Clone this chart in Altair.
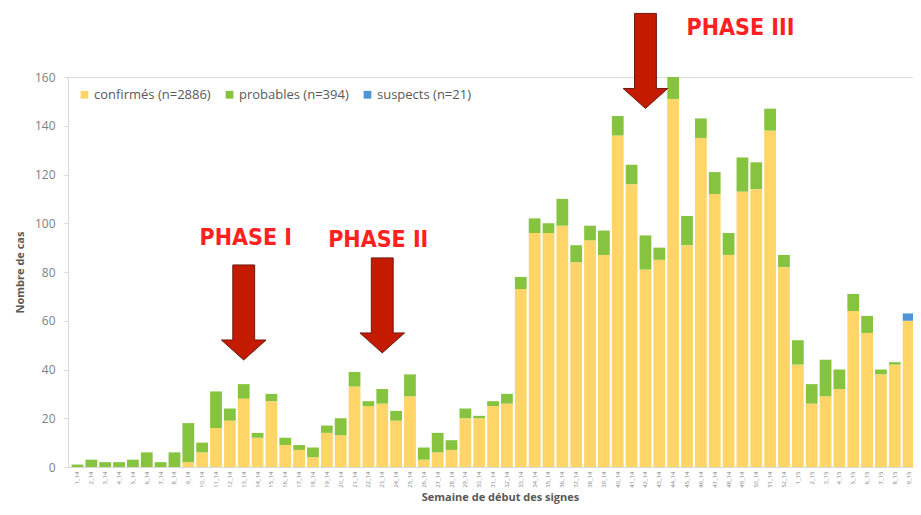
import altair as alt
import pandas as pd

weeks = ["1_14","2_14","3_14","4_14","5_14","6_14","7_14","8_14","9_14","10_14",
         "11_14","12_14","13_14","14_14","15_14","16_14","17_14","18_14","19_14","20_14",
         "21_14","22_14","23_14","24_14","25_14","26_14","27_14","28_14","29_14","30_14",
         "31_14","32_14","33_14","34_14","35_14","36_14","37_14","38_14","39_14","40_14",
         "41_14","42_14","43_14","44_14","45_14","46_14","47_14","48_14","49_14","50_14",
         "51_14","52_14","1_15","2_15","3_15","4_15","5_15","6_15","7_15","8_15",
         "9_15","10_15"]

confirmes = [0,0,0,0,0,0,0,0,2,6,
             16,19,28,12,27,9,7,4,14,13,
             33,25,26,19,29,3,6,7,20,20,
             25,26,73,96,96,99,84,93,87,136,
             116,81,85,151,91,135,112,87,113,114,
             138,82,42,26,29,32,64,55,38,42,
             60,31]
probables = [1,3,2,2,3,6,2,6,16,4,
             15,5,6,2,3,3,2,4,3,7,
             6,2,6,4,9,5,8,4,4,1,
             2,4,5,6,4,11,7,6,10,8,
             8,14,5,9,12,8,9,9,14,11,
             9,5,10,8,15,8,7,7,2,1,
             0,0]
suspects = [0]*60 + [3, 18]

series_names = ["confirmés (n=2886)", "probables (n=394)", "suspects (n=21)"]
series_colors = ["#FFD567", "#86C440", "#4E94D6"]

rows = []
for i, w in enumerate(weeks):
    for k, vals in enumerate([confirmes, probables, suspects]):
        rows.append({"semaine": w, "serie": series_names[k], "ordre": k, "cas": vals[i]})
df = pd.DataFrame(rows)

# annotations
phase_labels = ["PHASE I", "PHASE II", "PHASE III"]
phase_weeks = ["13_14", "23_14", "49_14"]
phase_y = [94, 93, 180]
arrow_weeks = ["13_14", "23_14", "42_14"]
arrow_y = [63.4, 66.3, 166.6]

txt_df = pd.DataFrame({"semaine": phase_weeks, "y": phase_y, "label": phase_labels})
arr_df = pd.DataFrame({"semaine": arrow_weeks, "y": arrow_y})

xscale = alt.Scale(domain=weeks, paddingInner=0.15, paddingOuter=0.26, range=[0, 864])
yscale = alt.Scale(domain=[0, 160], nice=False)

bars = alt.Chart(df).mark_bar().encode(
    x=alt.X("semaine:N", sort=weeks, scale=xscale,
            axis=alt.Axis(title="Semaine de début des signes", labelAngle=-90,
                          labelFontSize=6, labelColor="#7f7f7f", ticks=False,
                          labelExpr="datum.value == '10_15' ? '' : datum.label",
                          domainColor="#d9d9d9", labelFont="Open Sans",
                          titleFontSize=11, titleFontWeight="bold", titleFont="Open Sans",
                          titleColor="#595959", titleY=33, titleBaseline="alphabetic",
                          labelPadding=4)),
    y=alt.Y("cas:Q", stack="zero", scale=yscale,
            axis=alt.Axis(title="Nombre de cas", values=[0,20,40,60,80,100,120,140,160],
                          grid=False, labelFontSize=12, labelColor="#7f7f7f",
                          labelFont="Open Sans",
                          tickSize=4, tickColor="#d9d9d9", domainColor="#d9d9d9",
                          labelPadding=9, titleFontSize=11, titleFontWeight="bold",
                          titleFont="Open Sans",
                          titleColor="#595959", titlePadding=9)),
    color=alt.Color("serie:N", scale=alt.Scale(domain=series_names, range=series_colors),
                    legend=alt.Legend(title=None, orient="none", legendX=10, legendY=11,
                                      direction="horizontal", symbolType="square",
                                      symbolSize=60, labelFontSize=13, labelColor="#595959",
                                      labelFont="Open Sans",
                                      columnPadding=12, labelOffset=3)),
    order=alt.Order("ordre:Q"),
)

arrow_path = "M-0.23,-1L0.23,-1L0.23,0.58L0.47,0.58L0,1L-0.47,0.58L-0.23,0.58Z"

arrows = []
for i, dxv in enumerate([-4, -2, 6]):
    a = alt.Chart(arr_df.iloc[[i]]).mark_point(
        shape=arrow_path, size=9025, filled=True, fill="#C41A00", stroke="#6b1a10",
        strokeWidth=1, opacity=1, dx=dxv
    ).encode(
        x=alt.X("semaine:N", sort=weeks, scale=xscale),
        y=alt.Y("y:Q", scale=yscale),
    )
    arrows.append(a)

texts = []
for i, dxv in enumerate([2, -4, -2]):
    t = alt.Chart(txt_df.iloc[[i]]).mark_text(
        font="DejaVu Sans Condensed, Liberation Sans Narrow, sans-serif",
        fontWeight="bold", fontSize=23, color="#FF2020", align="center",
        baseline="middle", dx=dxv
    ).encode(
        x=alt.X("semaine:N", sort=weeks, scale=xscale),
        y=alt.Y("y:Q", scale=yscale),
        text="label:N",
    )
    texts.append(t)

chart = alt.layer(bars, *arrows, *texts).properties(
    width=845, height=390,
    autosize=alt.AutoSizeParams(type="none"),
    padding={"left": 60, "top": 69, "right": 0, "bottom": 38},
).configure_view(stroke=None).configure(font="Open Sans")

chart.save("out.html", embed_options={"renderer": "svg", "actions": False})
